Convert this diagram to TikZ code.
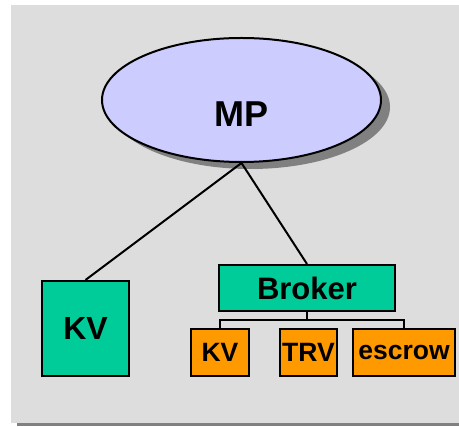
\documentclass[tikz,border=0pt]{standalone}
\usepackage{fontspec}
\setmainfont{Liberation Sans}
\usetikzlibrary{shapes.geometric, shadows}
\tikzstyle{canvas} = [x = 1pt, y = -1pt]
\definecolor{paperGray}{RGB}{221,221,221}
\definecolor{shadowGray}{RGB}{128,128,128}
\definecolor{mpColor}{RGB}{204,204,255}
\definecolor{brokerGreen}{RGB}{0,204,153}
\definecolor{partOrange}{RGB}{255,153,0}
\tikzstyle{mpStyle} = [ellipse, draw=black, line width=2pt, fill=mpColor, inner sep=0pt,
  minimum width=279pt, minimum height=124pt,
  drop shadow={shadow xshift=9pt, shadow yshift=-7pt, fill=shadowGray, opacity=1}]
\tikzstyle{mpText} = [font=\fontsize{36}{40}\selectfont\bfseries]
\tikzstyle{greenBox} = [draw=black, line width=2pt, fill=brokerGreen, inner sep=0pt]
\tikzstyle{partBox} = [draw=black, line width=2pt, fill=partOrange, inner sep=0pt,
  minimum height=47pt, font=\fontsize{26.5}{29}\selectfont\bfseries]
\tikzstyle{linkLine} = [color=black, line width=2pt]
\newcommand{\partNode}[4]{\node [partBox, minimum width=#3] (#1) at (#2, 352.5) {#4};}

\begin{document}
\begin{tikzpicture}[canvas]
  \useasboundingbox (0,0) rectangle (459,427);
  % page
  \fill [shadowGray] (17,419) rectangle (459,426.5);
  \fill [paperGray] (11,5) rectangle (459,423);

  \node [mpStyle, label={[mpText, yshift=-14pt]center:MP}] (mp) at (241.5,100) {};

  \node [greenBox, minimum width=87pt, minimum height=95pt,
    font=\fontsize{32}{35}\selectfont\bfseries] (kvLeft) at (85.5,328.5) {KV};
  \node [greenBox, minimum width=176pt, minimum height=46pt,
    font=\fontsize{31}{34}\selectfont\bfseries] (broker) at (307,288) {Broker};

  \partNode{kvSmall}{220}{58pt}{KV}
  \partNode{trv}{308.5}{57pt}{TRV}
  \partNode{escrow}{404}{102pt}{escrow}

  \coordinate (brokerSplit) at (307,320);
  \draw [linkLine] (mp.south) -- (kvLeft.north);
  \draw [linkLine] (mp.south) -- (broker.north);
  \draw [linkLine] (broker.south) -- (brokerSplit);
  \draw [linkLine] (kvSmall.north) |- (brokerSplit) -| (escrow.north);
\end{tikzpicture}
\end{document}
